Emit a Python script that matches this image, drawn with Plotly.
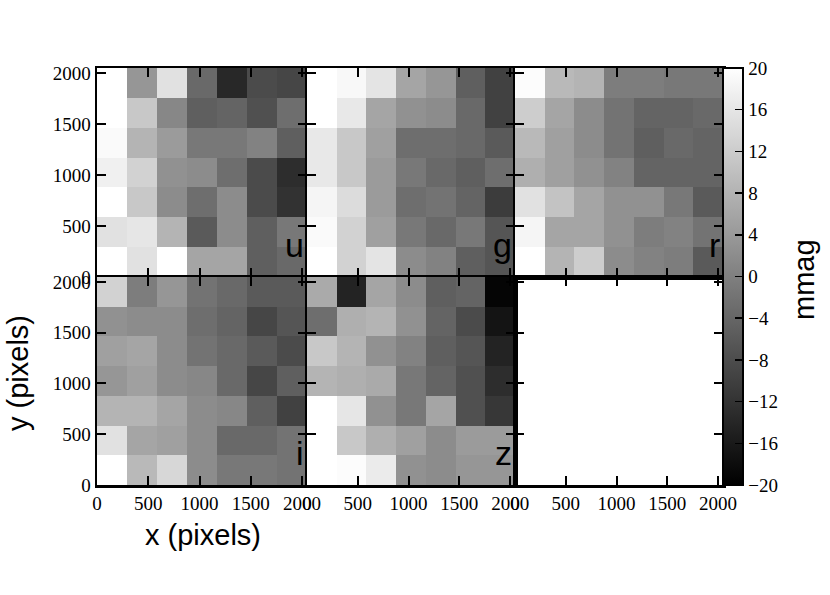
import plotly.graph_objects as go

# Cell values in mmag, rows listed from top (high y) to bottom (low y)
u_vals = [
    [20, 3.5, 15.3, -3.5, -13.7, -8.2, -9.0],
    [20, 11.4, 1.2, -5.1, -4.3, -7.5, -2.7],
    [19.2, 8.2, 4.3, -1.2, -1.2, 0.4, -5.1],
    [17.6, 12.9, 2.7, 2.0, -2.7, -8.2, -12.9],
    [20, 11.4, 2.0, -2.7, 2.0, -8.2, -12.2],
    [15.3, 16.1, 8.2, -5.9, 2.0, -5.1, -1.2],
    [20, 15.3, 20, 5.9, 5.9, -5.1, -3.5],
]
g_vals = [
    [20, 18.9, 15.8, 5.9, 3.5, -5.1, -9.8],
    [20, 16.4, 5.9, 2.7, 2.0, -3.5, -9.8],
    [16.4, 11.4, 5.1, -2.7, -2.7, -3.5, -5.9],
    [16.4, 11.4, 4.3, -1.2, -3.5, -5.1, -2.7],
    [18.4, 14.5, 4.3, -2.7, -2.0, -4.3, -10.6],
    [19.2, 12.9, 5.1, -1.2, -3.5, -1.2, -6.7],
    [20, 12.9, 15.8, 2.0, 0.4, -5.1, -6.7],
]
r_vals = [
    [19.5, 9.0, 8.2, -0.4, -0.4, -1.2, -1.2],
    [12.2, 5.9, 2.0, -2.0, -4.3, -4.3, -3.5],
    [9.0, 5.1, 2.0, -2.0, -5.1, -3.5, -4.3],
    [7.5, 5.1, 2.7, 0.4, -4.3, -4.3, -4.3],
    [15.3, 10.6, 5.9, 2.7, 2.7, -1.2, -5.9],
    [18.4, 5.9, 5.9, 2.7, -0.4, 0.4, -2.0],
    [20, 8.2, 12.2, 2.0, 0.4, -0.4, -5.9],
]
i_vals = [
    [12.9, -0.4, 3.5, -2.0, -3.5, -5.9, -5.9],
    [2.7, 2.0, 2.0, -2.7, -4.3, -9.0, -6.7],
    [5.1, 5.9, 2.0, -2.0, -3.5, -5.9, -8.2],
    [3.5, 5.1, 2.0, 1.2, -3.5, -9.0, -5.1],
    [8.2, 8.2, 5.9, 2.0, 1.2, -5.1, -9.8],
    [15.3, 5.9, 5.1, 2.0, -3.5, -3.5, -2.0],
    [20, 9.0, 13.7, 2.0, -1.2, -1.2, -2.0],
]
z_vals = [
    [6.7, -14.5, 5.9, 2.0, -5.1, -4.3, -19.2],
    [-2.7, 7.5, 8.2, 2.7, -4.3, -8.2, -16.9],
    [11.4, 8.2, 2.7, 0.4, -5.1, -6.7, -14.5],
    [8.2, 7.5, 6.7, -1.2, -4.3, -7.5, -12.9],
    [20, 16.1, 2.7, -1.2, 5.9, -7.5, -11.4],
    [20, 11.4, 7.5, 5.1, 2.0, 4.3, 4.3],
    [20, 19.5, 16.9, 2.7, 2.0, 3.5, 3.5],
]
bands = ["u", "g", "r", "i", "z"]
detector_size = 2048
n_cells = 7
axis_ticks = [0, 500, 1000, 1500, 2000]
cbar_ticks = list(range(-20, 21, 4))

W, H = 830, 595
col_px = [(97, 307), (307, 515), (515, 723)]
row_px = [(68, 277), (277, 485)]

def px_x(a):
    return a / W

def px_y(a):
    return 1 - a / H

def xd(a, b):
    return [px_x(a), px_x(b)]

def yd(a, b):
    return [px_y(b), px_y(a)]

cell = detector_size / n_cells
centers = [cell / 2 + k * cell for k in range(n_cells)]

serif = "Liberation Serif"
sans = "Liberation Sans"

fig = go.Figure()
all_vals = [u_vals, g_vals, r_vals, i_vals, z_vals]
for k, vals in enumerate(all_vals):
    zz = vals[::-1]  # bottom row first
    sfx = "" if k == 0 else str(k + 1)
    tr = go.Heatmap(
        z=zz, x=centers, y=centers,
        zmin=-20, zmax=20,
        colorscale=[[0, "black"], [1, "white"]],
        showscale=(k == 0),
        hoverinfo="skip",
        xaxis="x" + sfx, yaxis="y" + sfx,
    )
    if k == 0:
        tr.colorbar = dict(
            x=px_x(723), xanchor="left", xpad=0,
            y=px_y((68 + 485) / 2), yanchor="middle", ypad=0,
            len=(485 - 68) / H, lenmode="fraction",
            thickness=20, thicknessmode="pixels",
            outlinewidth=2, outlinecolor="black",
            tickvals=cbar_ticks, ticks="inside", ticklen=9, tickwidth=1.5,
            tickcolor="black",
            tickfont=dict(family=serif, size=19, color="black"),
        )
    fig.add_trace(tr)

# empty sixth panel (keeps its axes drawn)
fig.add_trace(go.Scatter(x=[], y=[], xaxis="x6", yaxis="y6",
                         mode="markers", hoverinfo="skip", showlegend=False))

layout = dict(
    width=W, height=H,
    margin=dict(l=0, r=0, t=0, b=0, autoexpand=False),
    paper_bgcolor="white", plot_bgcolor="white",
    showlegend=False,
)
for idx in range(6):
    r = idx // 3
    c = idx % 3
    sfx = "" if idx == 0 else str(idx + 1)
    common = dict(
        range=[0, detector_size], tickvals=axis_ticks,
        showline=True, linewidth=2.5, linecolor="black", mirror="ticks",
        ticks="inside", ticklen=9, tickwidth=2, tickcolor="black",
        showgrid=False, zeroline=False,
        tickfont=dict(family=serif, size=19, color="black"),
        fixedrange=True,
    )
    layout["xaxis" + sfx] = dict(
        common, domain=xd(*col_px[c]), anchor="y" + sfx,
        showticklabels=(r == 1),
    )
    layout["yaxis" + sfx] = dict(
        common, domain=yd(*row_px[r]), anchor="x" + sfx,
        showticklabels=(c == 0),
    )
fig.update_layout(**layout)

annotations = []
for k, b in enumerate(bands):
    r = k // 3
    c = k % 3
    right = col_px[c][1]
    bottom = row_px[r][1]
    annotations.append(dict(
        text=b, xref="paper", yref="paper",
        x=px_x(right - 1), y=px_y(bottom - 11),
        xanchor="right", yanchor="bottom", showarrow=False,
        font=dict(family=sans, size=34, color="black"),
    ))
title_font = dict(family=sans, size=29, color="black")
annotations.append(dict(
    text="x (pixels)", xref="paper", yref="paper",
    x=px_x(203), y=px_y(535), xanchor="center", yanchor="middle",
    showarrow=False, font=title_font,
))
annotations.append(dict(
    text="y (pixels)", xref="paper", yref="paper",
    x=px_x(18), y=px_y(373), xanchor="center", yanchor="middle",
    textangle=-90, showarrow=False, font=title_font,
))
annotations.append(dict(
    text="mmag", xref="paper", yref="paper",
    x=px_x(804), y=px_y(280), xanchor="center", yanchor="middle",
    textangle=-90, showarrow=False, font=title_font,
))
fig.update_layout(annotations=annotations)

fig.write_html("out.html",
               config={"displayModeBar": False, "staticPlot": True},
               post_script="document.body.style.margin='0px';")
